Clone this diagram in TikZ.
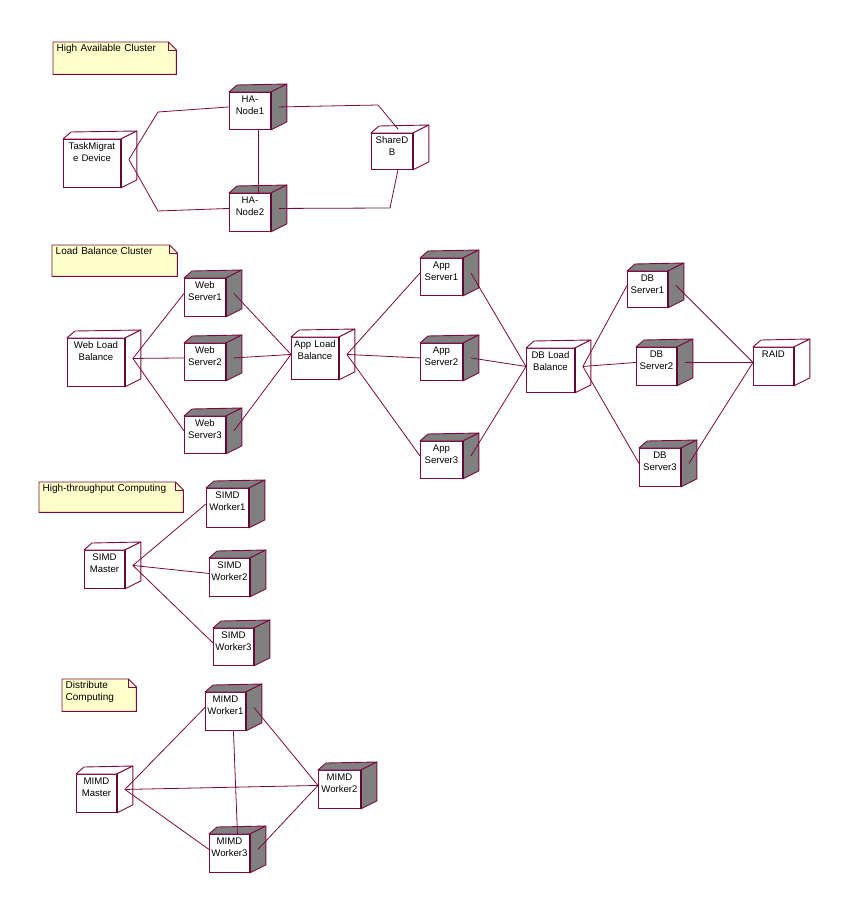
\documentclass[tikz,border=0pt]{standalone}
\usepackage{fontspec}
\setmainfont{Liberation Sans}
\usetikzlibrary{calc, backgrounds}
\definecolor{roseline}{RGB}{122,10,62}
\definecolor{rosegray}{RGB}{128,128,128}
\definecolor{noteyellow}{RGB}{255,255,204}
\tikzset{
    nodebox/.style 2 args={draw=roseline, line width=0.9pt, fill=white, anchor=north west, align=center,
        inner xsep=1pt, inner ysep=0pt, font=\fontsize{9.6}{12}\selectfont,
        /utils/exec={\pgfmathsetlengthmacro\boxwd{#1-2}\pgfmathsetlengthmacro\boxdp{#2-10.5}},
        text width=\boxwd, text height=10.5pt, text depth=\boxdp,
        minimum width=#1, minimum height=#2},
    procbox/.style={nodebox={41}{38}},
    notebox/.style 2 args={anchor=north west, align=left,
        inner xsep=3.5pt, inner ysep=0pt, font=\fontsize{10}{12}\selectfont,
        /utils/exec={\pgfmathsetlengthmacro\boxwd{#1-7}\pgfmathsetlengthmacro\boxdp{#2-9.5}},
        text width=\boxwd, text height=9.5pt, text depth=\boxdp,
        minimum width=#1, minimum height=#2},
    face/.style={draw=roseline, line width=0.9pt, line join=round},
    frontedge/.style={draw=roseline!80!black, line width=2pt},
    notepaper/.style={draw=roseline, line width=0.9pt, fill=noteyellow},
    link/.style={draw=roseline, line width=0.8pt},
}

\begin{document}
\begin{tikzpicture}[x=1pt, y=-1pt]
\useasboundingbox (0,0) rectangle (851,917);

% notes
\node[notebox={123}{32}] (note1) at (53,42) {High Available Cluster};
\node[notebox={125}{31}] (note2) at (52,245) {Load Balance Cluster};
\node[notebox={144}{30}] (note3) at (39,482) {High-throughput Computing};
\node[notebox={74}{32}] (note4) at (62,679) {Distribute\\Computing};

% high available cluster
\node[nodebox={57}{48}] (tmd) at (63,139) {TaskMigrat\\e Device};
\node[nodebox={41}{37}] (ha1) at (229,92) {HA-\\Node1};
\node[procbox] (ha2) at (229,193) {HA-\\Node2};
\node[nodebox={41}{36}] (sdb) at (371,133) {ShareD\\B};

% load balance cluster
\node[nodebox={57}{48}] (wlb) at (67,338) {Web Load\\Balance};
\node[procbox] (ws1) at (184,278) {Web\\Server1};
\node[nodebox={41}{37}] (ws2) at (184,343) {Web\\Server2};
\node[nodebox={41}{37}] (ws3) at (184,416) {Web\\Server3};
\node[nodebox={47}{42}] (alb) at (291,337) {App Load\\Balance};
\node[nodebox={42}{37}] (as1) at (420,258) {App\\Server1};
\node[nodebox={42}{37}] (as2) at (420,343) {App\\Server2};
\node[nodebox={42}{37}] (as3) at (420,441) {App\\Server3};
\node[nodebox={48}{44}] (dblb) at (526,348) {DB Load\\Balance};
\node[nodebox={40}{36}] (dbs1) at (627,271) {DB\\Server1};
\node[nodebox={40}{38}] (dbs2) at (636,347) {DB\\Server2};
\node[procbox] (dbs3) at (639,448) {DB\\Server3};
\node[nodebox={40}{38}] (raid) at (753,347) {RAID};

% high-throughput computing
\node[nodebox={40}{38}] (sm) at (84,550) {SIMD\\Master};
\node[nodebox={42}{39}] (sw1) at (206,488) {SIMD\\Worker1};
\node[nodebox={40}{38}] (sw2) at (209,558) {SIMD\\Worker2};
\node[nodebox={40}{37}] (sw3) at (213,628) {SIMD\\Worker3};

% distribute computing
\node[nodebox={40}{38}] (mm) at (76,774) {MIMD\\Master};
\node[nodebox={40}{38}] (mw1) at (205,692) {MIMD\\Worker1};
\node[nodebox={42}{38}] (mw2) at (318,770) {MIMD\\Worker2};
\node[nodebox={40}{38}] (mw3) at (209,834) {MIMD\\Worker3};

% note paper with folded corner
\begin{scope}[on background layer]
\foreach \n in {note1,note2,note3,note4}{
    \draw[notepaper] (\n.north west) -- ($(\n.north east)+(-8,0)$) -- ($(\n.north east)+(0,8)$)
        -- (\n.south east) -- (\n.south west) -- cycle;
    \draw[face] ($(\n.north east)+(-8,0)$) |- ($(\n.north east)+(0,8)$);
}
\end{scope}

% processors: grey top and side
\foreach \n in {ha1,ha2,ws1,ws2,ws3,as1,as2,as3,dbs1,dbs2,dbs3,sw1,sw2,sw3,mw1,mw2,mw3}{
    \draw[face, fill=rosegray] (\n.north west) -- ++(8,-7) -- ($(\n.north east)+(16,-8)$) -- (\n.north east) -- cycle;
    \draw[face, fill=rosegray] (\n.north east) -- ++(16,-8) -- ($(\n.south east)+(16,-8)$) -- (\n.south east) -- cycle;
    \draw[frontedge] (\n.north east) -- (\n.south east);
}
% devices: white top and side
\foreach \n in {tmd,sdb,wlb,alb,dblb,raid,sm,mm}{
    \draw[face, fill=white] (\n.north west) -- ++(8,-7) -- ($(\n.north east)+(16,-8)$) -- (\n.north east) -- cycle;
    \draw[face, fill=white] (\n.north east) -- ++(16,-8) -- ($(\n.south east)+(16,-8)$) -- (\n.south east) -- cycle;
    \draw[frontedge] (\n.north east) -- (\n.south east);
}

% attach points
\foreach \n in {tmd,ha1,ha2,sdb,wlb,ws1,ws2,ws3,alb,as1,as2,as3,dblb,dbs1,dbs2,dbs3,raid,sm,sw1,sw2,sw3,mm,mw1,mw2,mw3}{
    \coordinate (\n-l) at ($(\n.west)+(0,-4)$);
    \coordinate (\n-r) at ($(\n.east)+(8,-4)$);
}

\coordinate (haUp) at (158,112);
\coordinate (haDown) at (158,211);
\coordinate (sdbUp) at (378,105);
\coordinate (sdbDown) at (390,208);

\draw[link] (tmd-r) -- (haUp) -- (ha1-l);
\draw[link] (tmd-r) -- (haDown) -- (ha2-l);
\draw[link] (ha1-r) -- (sdbUp) -- ($(sdb.north)+(6,-4)$);
\draw[link] (ha2-r) -- (sdbDown) -- ($(sdb.south)+(6,0)$);
\draw[link] ($(ha1.south)+(8,0)$) -- ($(ha2.north)+(8,0)$);

\draw[link] (wlb-r) -- (ws1-l);
\draw[link] (wlb-r) -- (ws2-l);
\draw[link] (wlb-r) -- (ws3-l);
\draw[link] (ws1-r) -- (alb-l);
\draw[link] (ws2-r) -- (alb-l);
\draw[link] (ws3-r) -- (alb-l);
\draw[link] (alb-r) -- (as1-l);
\draw[link] (alb-r) -- (as2-l);
\draw[link] (alb-r) -- (as3-l);
\draw[link] (as1-r) -- (dblb-l);
\draw[link] (as2-r) -- (dblb-l);
\draw[link] (as3-r) -- (dblb-l);
\draw[link] (dblb-r) -- (dbs1-l);
\draw[link] (dblb-r) -- (dbs2-l);
\draw[link] (dblb-r) -- (dbs3-l);
\draw[link] (dbs1-r) -- (raid-l);
\draw[link] (dbs2-r) -- (raid-l);
\draw[link] (dbs3-r) -- (raid-l);

\draw[link] (sm-r) -- (sw1-l);
\draw[link] (sm-r) -- (sw2-l);
\draw[link] (sm-r) -- (sw3-l);

\draw[link] (mm-r) -- (mw1-l);
\draw[link] (mm-r) -- (mw2-l);
\draw[link] (mm-r) -- (mw3-l);
\draw[link] ($(mw1.south)+(8,0)$) -- ($(mw3.north)+(8,0)$);
\draw[link] (mw1-r) -- (mw2-l);
\draw[link] (mw3-r) -- (mw2-l);
\end{tikzpicture}
\end{document}
